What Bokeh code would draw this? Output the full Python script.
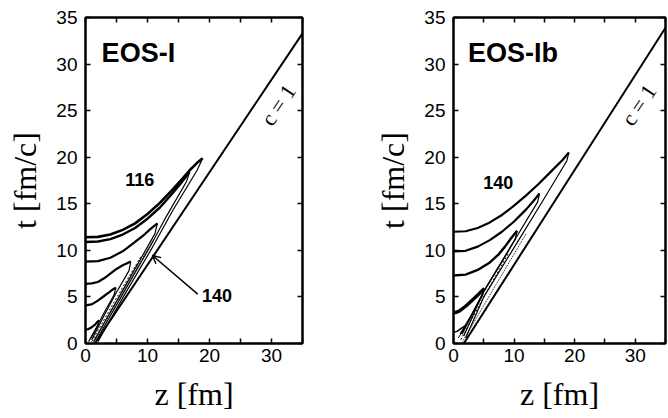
from bokeh.plotting import figure
from bokeh.layouts import row
from bokeh.models import LinearAxis, Range1d, Label, Arrow, OpenHead, FixedTicker
from bokeh.embed import file_html
from bokeh.resources import INLINE

# ---------------- data: EOS-I (left panel) ----------------
x_ticks = [0, 10, 20, 30]
x_minor = [5, 15, 25, 35]
y_ticks = [0, 5, 10, 15, 20, 25, 30, 35]

# light-cone (c = 1) line
eos1_cone_z = [1.5, 35.0]
eos1_cone_t = [0.0, 33.3]

# isotherm contours: upper branch and return branch
eos1_a_up_z = [0, 2, 4, 6, 8, 10, 12, 14, 15.5, 16.8, 18.0, 18.9]
eos1_a_up_t = [11.4, 11.45, 11.7, 12.2, 12.9, 13.9, 15.1, 16.5, 17.6, 18.6, 19.4, 19.9]
eos1_a_rt_z = [18.9, 18.0, 14.0, 10.6, 6.0, 2.0]
eos1_a_rt_t = [19.9, 18.6, 14.2, 10.1, 4.9, 0.2]

eos1_b_up_z = [0, 2, 4, 6, 8, 10, 12, 14, 15.5, 16.8]
eos1_b_up_t = [10.9, 10.95, 11.2, 11.7, 12.4, 13.4, 14.6, 16.1, 17.3, 18.4]
eos1_b_rt_z = [16.8, 16.3, 13.0, 10.5, 6.0, 1.7]
eos1_b_rt_t = [18.4, 17.4, 13.6, 10.5, 5.3, 0.3]

eos1_c_up_z = [0, 2, 4, 6, 8, 9.5, 10.5, 11.6]
eos1_c_up_t = [8.8, 8.85, 9.2, 9.9, 10.9, 11.7, 12.3, 12.9]
eos1_c_rt_z = [11.6, 11.2, 9.0, 6.0, 3.0, 1.3]
eos1_c_rt_t = [12.9, 11.8, 9.2, 5.7, 2.2, 0.2]

eos1_d_up_z = [0, 1, 2, 3, 4, 5, 6, 6.8, 7.3]
eos1_d_up_t = [6.4, 6.45, 6.6, 7.0, 7.5, 8.0, 8.4, 8.65, 8.8]
eos1_d_rt_z = [7.3, 7.0, 5.0, 3.0, 1.0]
eos1_d_rt_t = [8.8, 7.8, 5.5, 3.0, 0.4]

eos1_e_up_z = [0, 1, 2, 3, 3.8, 4.4, 4.9]
eos1_e_up_t = [4.1, 4.2, 4.6, 5.1, 5.5, 5.8, 6.0]
eos1_e_rt_z = [4.9, 4.6, 3.0, 0.8]
eos1_e_rt_t = [6.0, 5.2, 3.3, 0.5]

eos1_f_up_z = [0, 0.5, 1.0, 1.5, 1.9, 2.2]
eos1_f_up_t = [1.5, 1.55, 1.75, 2.0, 2.3, 2.5]
eos1_f_rt_z = [2.2, 2.0, 0.5]
eos1_f_rt_t = [2.5, 1.9, 0.2]

eos1_band1_z = [1.2, 6.0, 11.0]
eos1_band1_t = [0.0, 5.6, 11.2]
eos1_band2_z = [1.0, 5.0, 9.0]
eos1_band2_t = [0.2, 4.9, 9.4]

# ---------------- data: EOS-Ib (right panel) ----------------
eos2_cone_z = [1.7, 35.0]
eos2_cone_t = [0.0, 33.9]

eos2_a_up_z = [0, 2, 4, 6, 8, 10, 12, 14, 16, 18, 19.05]
eos2_a_up_t = [12.0, 12.05, 12.4, 13.0, 13.8, 14.8, 15.9, 17.1, 18.4, 19.7, 20.5]
eos2_a_rt_z = [19.05, 18.7, 15.0, 10.0, 5.0, 2.0]
eos2_a_rt_t = [20.5, 19.6, 15.6, 10.3, 5.0, 0.6]

eos2_b_up_z = [0, 2, 4, 6, 8, 10, 12, 13.2, 14.2]
eos2_b_up_t = [9.9, 9.95, 10.4, 11.1, 12.0, 13.1, 14.4, 15.3, 16.1]
eos2_b_rt_z = [14.2, 13.9, 10.0, 5.0, 1.7]
eos2_b_rt_t = [16.1, 15.2, 11.0, 5.6, 0.8]

eos2_c_up_z = [0, 2, 4, 6, 7.5, 8.5, 9.5, 10.5]
eos2_c_up_t = [7.3, 7.4, 7.9, 8.7, 9.6, 10.4, 11.3, 12.1]
eos2_c_rt_z = [10.5, 10.2, 8.0, 5.0, 1.4]
eos2_c_rt_t = [12.1, 11.2, 8.8, 5.6, 1.0]

eos2_d_up_z = [0, 0.5, 1, 2, 3, 4, 5.1]
eos2_d_up_t = [3.3, 3.35, 3.5, 4.0, 4.6, 5.2, 5.9]
eos2_d_rt_z = [5.1, 4.8, 3.0, 1.1]
eos2_d_rt_t = [5.9, 5.2, 3.1, 1.0]

eos2_e_up_z = [0, 0.6, 1.2, 1.9]
eos2_e_up_t = [1.2, 1.3, 1.6, 1.9]
eos2_e_rt_z = [1.9, 1.6, 0.8]
eos2_e_rt_t = [1.9, 1.4, 0.6]

eos2_band1_z = [1.5, 6.0, 12.0]
eos2_band1_t = [0.2, 5.2, 11.8]
eos2_band2_z = [1.2, 5.0, 9.0]
eos2_band2_t = [0.4, 5.0, 9.6]

SANS = "Liberation Sans"
SERIF = "Liberation Serif"


def make_panel(frame_w, border_right):
    p = figure(frame_width=frame_w, frame_height=326,
               x_range=Range1d(0, 35), y_range=Range1d(0, 35),
               output_backend="svg", toolbar_location=None,
               min_border_left=85, min_border_right=border_right,
               min_border_top=17, min_border_bottom=72,
               background_fill_color="white", border_fill_color="white")
    p.grid.visible = False
    p.outline_line_color = "black"
    p.outline_line_width = 2

    for ax in (p.xaxis[0], p.yaxis[0]):
        ax.axis_line_width = 2
        ax.major_tick_in = 5
        ax.major_tick_out = 0
        ax.minor_tick_in = 5
        ax.minor_tick_out = 0
        ax.major_tick_line_width = 1.5
        ax.minor_tick_line_width = 1.5
        ax.major_label_text_font = SANS
        ax.major_label_text_font_size = "19px"
        ax.major_label_text_color = "black"
        ax.axis_label_text_font = SERIF
        ax.axis_label_text_font_style = "normal"
        ax.axis_label_text_font_size = "32px"
        ax.axis_label_text_color = "black"

    p.xaxis[0].ticker = FixedTicker(ticks=x_ticks, minor_ticks=x_minor)
    p.yaxis[0].ticker = FixedTicker(ticks=y_ticks)
    p.xaxis[0].axis_label = "z [fm]"
    p.yaxis[0].axis_label = "t [fm/c]"
    p.xaxis[0].major_label_standoff = 5
    p.xaxis[0].axis_label_standoff = 11
    p.yaxis[0].major_label_standoff = 8
    p.yaxis[0].axis_label_standoff = 10

    top = LinearAxis(ticker=FixedTicker(ticks=x_ticks + x_minor))
    right = LinearAxis(ticker=FixedTicker(ticks=y_ticks))
    for ax in (top, right):
        ax.axis_line_width = 2
        ax.major_tick_in = 5
        ax.major_tick_out = 0
        ax.major_tick_line_width = 1.5
        ax.minor_tick_line_color = None
        ax.major_label_text_font_size = "1px"
        ax.major_label_text_color = None
        ax.major_label_standoff = 0
    p.add_layout(top, "above")
    p.add_layout(right, "right")
    return p


def draw(p, z, t, w, dash="solid"):
    p.line(z, t, line_color="black", line_width=w, line_dash=dash,
           line_join="round")


# ---------------- left panel ----------------
p1 = make_panel(217, 66)
draw(p1, eos1_cone_z, eos1_cone_t, 2)
draw(p1, eos1_a_up_z, eos1_a_up_t, 2.6)
draw(p1, eos1_a_rt_z, eos1_a_rt_t, 1.2)
draw(p1, eos1_b_up_z, eos1_b_up_t, 2.4)
draw(p1, eos1_b_rt_z, eos1_b_rt_t, 1.2)
draw(p1, eos1_c_up_z, eos1_c_up_t, 2.2)
draw(p1, eos1_c_rt_z, eos1_c_rt_t, 1.2)
draw(p1, eos1_d_up_z, eos1_d_up_t, 2.2)
draw(p1, eos1_d_rt_z, eos1_d_rt_t, 1.2)
draw(p1, eos1_e_up_z, eos1_e_up_t, 2.2)
draw(p1, eos1_e_rt_z, eos1_e_rt_t, 1.2)
draw(p1, eos1_f_up_z, eos1_f_up_t, 2.2)
draw(p1, eos1_f_rt_z, eos1_f_rt_t, 1.2)
draw(p1, eos1_band1_z, eos1_band1_t, 1, "1 1")
draw(p1, eos1_band2_z, eos1_band2_t, 1, "2 2")

p1.add_layout(Label(x=2.6, y=31.2, text="EOS-I", text_font=SANS,
                    text_font_style="bold", text_font_size="27px",
                    text_baseline="middle", text_color="black"))
p1.add_layout(Label(x=8.75, y=17.6, text="116", text_font=SANS,
                    text_font_style="bold", text_font_size="18px",
                    text_align="center", text_baseline="middle",
                    text_color="black"))
p1.add_layout(Label(x=21.2, y=5.15, text="140", text_font=SANS,
                    text_font_style="bold", text_font_size="18px",
                    text_align="center", text_baseline="middle",
                    text_color="black"))
p1.add_layout(Label(x=31.1, y=25.6, text="c = 1", text_font=SERIF,
                    text_font_size="22px", angle=0.98,
                    text_align="center", text_baseline="middle",
                    text_color="black"))
p1.add_layout(Arrow(x_start=18.1, y_start=5.3, x_end=10.8, y_end=9.45,
                    line_width=1.5, line_color="black",
                    end=OpenHead(size=8, line_width=1.5, line_color="black")))

# ---------------- right panel ----------------
p2 = make_panel(212, 2)
draw(p2, eos2_cone_z, eos2_cone_t, 2)
draw(p2, eos2_a_up_z, eos2_a_up_t, 2.2)
draw(p2, eos2_a_rt_z, eos2_a_rt_t, 1.2)
draw(p2, eos2_b_up_z, eos2_b_up_t, 2.2)
draw(p2, eos2_b_rt_z, eos2_b_rt_t, 1.2)
draw(p2, eos2_c_up_z, eos2_c_up_t, 2.4)
draw(p2, eos2_c_rt_z, eos2_c_rt_t, 1.4)
draw(p2, eos2_d_up_z, eos2_d_up_t, 3.4)
draw(p2, eos2_d_rt_z, eos2_d_rt_t, 1.4)
draw(p2, eos2_e_up_z, eos2_e_up_t, 1.5)
draw(p2, eos2_e_rt_z, eos2_e_rt_t, 1.0)
draw(p2, eos2_band1_z, eos2_band1_t, 1, "1 1")
draw(p2, eos2_band2_z, eos2_band2_t, 1, "2 2")

p2.add_layout(Label(x=2.4, y=31.2, text="EOS-Ib", text_font=SANS,
                    text_font_style="bold", text_font_size="27px",
                    text_baseline="middle", text_color="black"))
p2.add_layout(Label(x=7.4, y=17.3, text="140", text_font=SANS,
                    text_font_style="bold", text_font_size="18px",
                    text_align="center", text_baseline="middle",
                    text_color="black"))
p2.add_layout(Label(x=30.6, y=25.6, text="c = 1", text_font=SERIF,
                    text_font_size="22px", angle=0.98,
                    text_align="center", text_baseline="middle",
                    text_color="black"))

layout = row(p1, p2)
open("out.html", "w").write(file_html(layout, INLINE))
